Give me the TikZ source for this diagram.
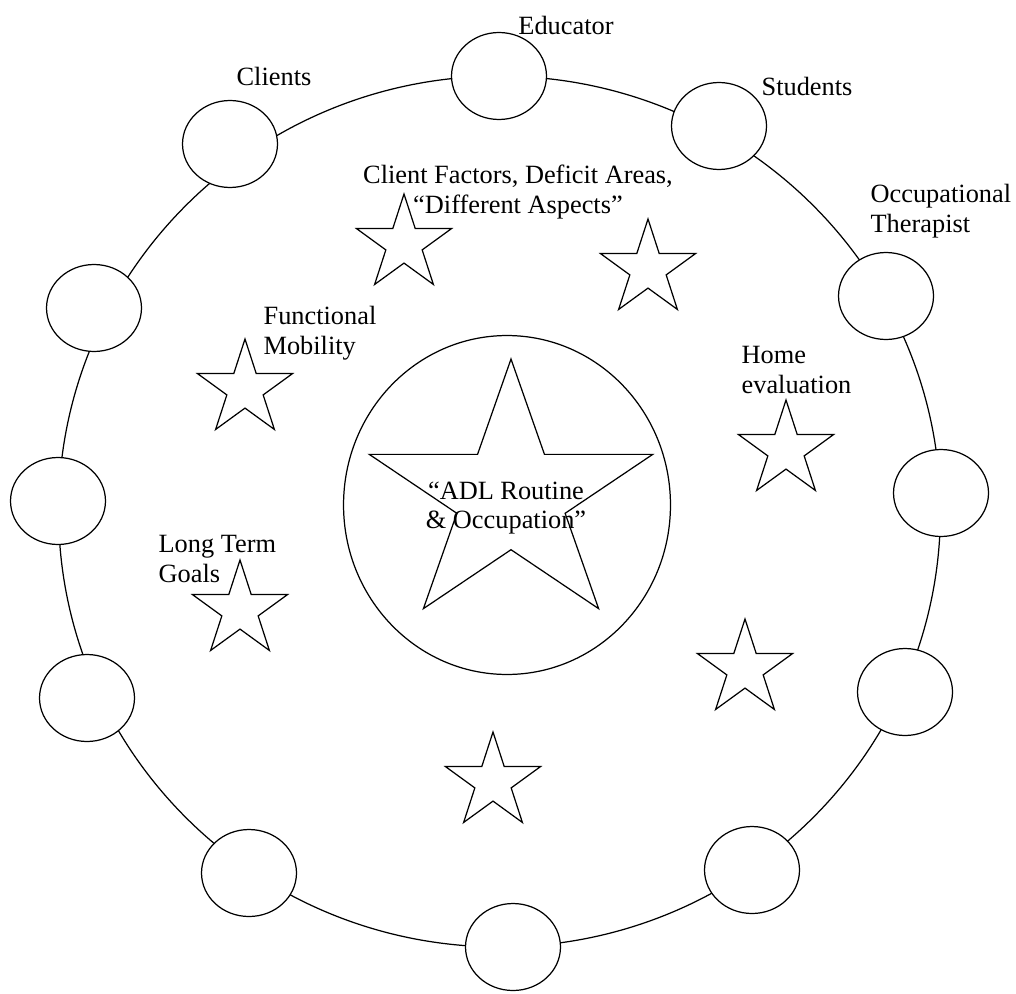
\documentclass[tikz,border=0pt]{standalone}
\usepackage{fontspec}
\setmainfont{Liberation Serif}
\usetikzlibrary{shapes.geometric,positioning}

\begin{document}
\begin{tikzpicture}[x=0.02cm,y=-0.02cm,line width=0.7pt]
  \tikzset{
    ringnode/.style={draw,ellipse,fill=white,minimum width=1.9cm,minimum height=1.74cm,inner sep=0pt},
    starmark/.style={draw,star,star points=5,star point ratio=2.618,inner sep=0pt,minimum size=2cm},
    lbl/.style={font=\fontsize{15}{17}\selectfont,inner sep=0pt}
  }
  \useasboundingbox (0,0) rectangle (1016,993);

  % outer ring with the twelve small circles on it
  \node[draw,ellipse,minimum width=17.64cm,minimum height=17.42cm,inner sep=0pt] (ring) at (499.5,511.5) {};
  \foreach \x/\y [count=\i] in {499/76,719/126,886/296,941/493,905/692,752/870,513/947,249/873,87/698,58/501,94/308,230/144}
    \node[ringnode] (r\i) at (\x,\y) {};

  % centre
  \node[draw,ellipse,minimum width=6.54cm,minimum height=6.78cm,inner sep=0pt] (hub) at (507,505) {};
  \begin{scope}[shift={(511,497)},xscale=1.08]
    \node[starmark,minimum size=5.52cm,transform shape] (core) at (0,0) {};
  \end{scope}

  % small stars
  \foreach \x/\y [count=\i] in {404/244,648/269,245/389,786/450,240/610,745/669,493/782}
    \node[starmark] (s\i) at (\x,\y) {};

  % labels
  \node[lbl] (educ) at (566,25) {Educator};
  \node[lbl] (clients) at (274,76) {Clients};
  \node[lbl] (students) at (807,86) {Students};
  \node[lbl,anchor=west,align=left] (ot) at (870,211) {Occupational\\Therapist};
  \node[lbl,align=center] (factors) at (518,192) {Client Factors, Deficit Areas,\\“Different Aspects”};
  \node[lbl,anchor=west,align=left] (mobility) at (263,333) {Functional\\Mobility};
  \node[lbl,anchor=west,align=left] (home) at (741,370) {Home\\evaluation};
  \node[lbl,anchor=west,align=left] (goals) at (158,559) {Long Term\\Goals};
  \node[lbl,align=center] (adl) at (506,508) {“ADL Routine\\\& Occupation”};
\end{tikzpicture}
\end{document}
